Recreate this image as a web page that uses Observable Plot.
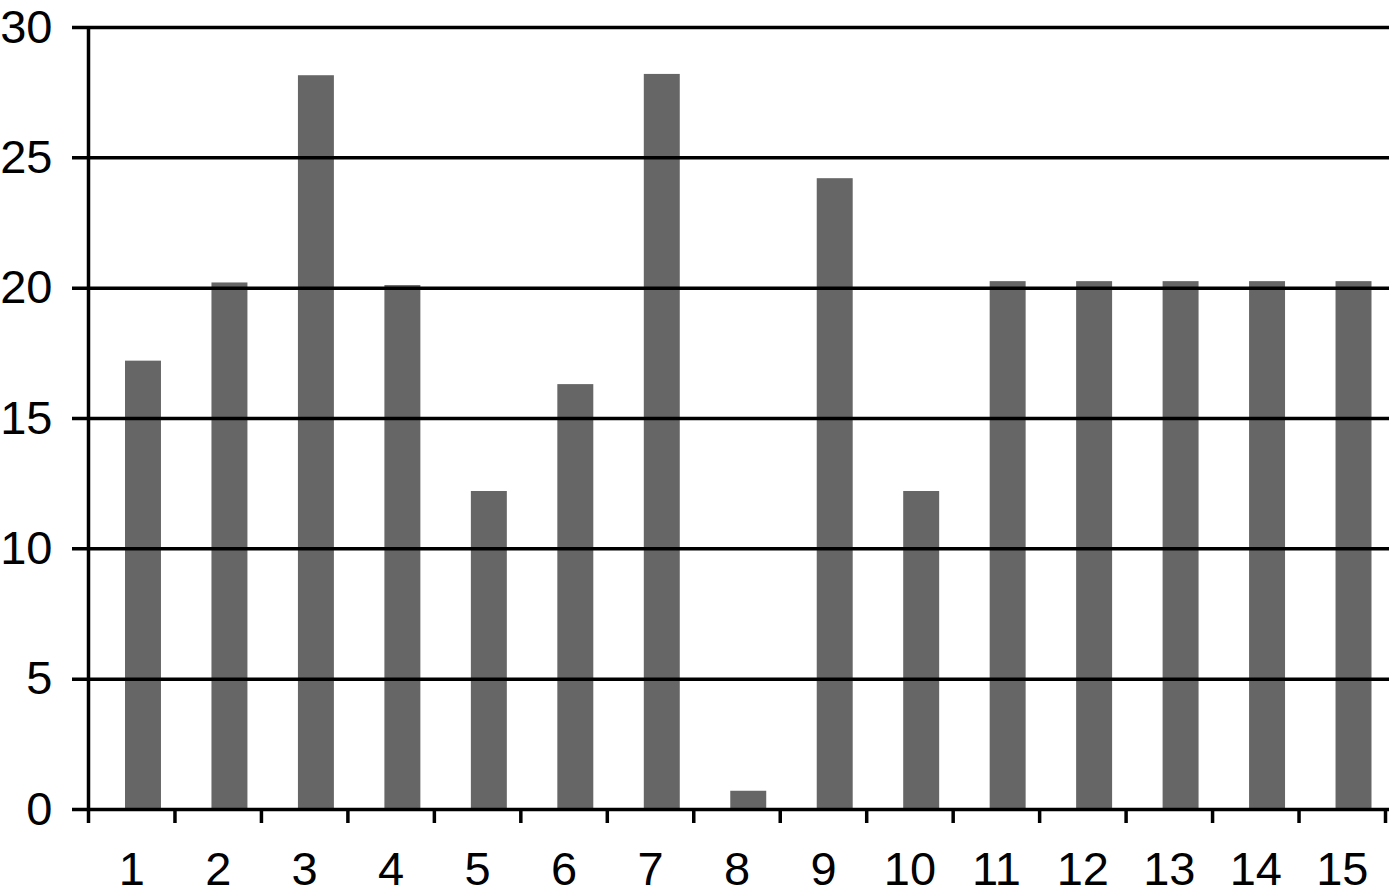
<!DOCTYPE html>
<html>
<head>
<meta charset="utf-8">
<script src="https://cdn.jsdelivr.net/npm/d3@7"></script>
<script src="https://cdn.jsdelivr.net/npm/@observablehq/plot@0.6"></script>
<style>
  html, body { margin: 0; padding: 0; background: #ffffff; }
  #chart svg { display: block; }
  #chart g[aria-label="x-axis tick"] path,
  #chart g[aria-label="x-axis tick"] { stroke-width: 3.5px; stroke: #000; }
</style>
</head>
<body>
<div id="chart"></div>
<script>
const categories = [1, 2, 3, 4, 5, 6, 7, 8, 9, 10, 11, 12, 13, 14, 15];
const values = [17.2, 20.2, 28.15, 20.1, 12.2, 16.3, 28.2, 0.7, 24.2, 12.2, 20.25, 20.25, 20.25, 20.25, 20.25];
const yTicks = [0, 5, 10, 15, 20, 25, 30];
const xBoundaries = [0.5, 1.5, 2.5, 3.5, 4.5, 5.5, 6.5, 7.5, 8.5, 9.5, 10.5, 11.5, 12.5, 13.5, 14.5, 15.5];

const data = categories.map((c, i) => ({cat: c, value: values[i]}));

const chart = Plot.plot({
  width: 1389,
  height: 896,
  marginLeft: 88,
  marginRight: 4,
  marginTop: 27,
  marginBottom: 87,
  style: {fontFamily: "'Liberation Sans', Arial, Helvetica, sans-serif", fontSize: "47px", color: "#000", background: "#fff"},
  x: {domain: [0.5, 15.5]},
  y: {domain: [0, 30]},
  marks: [
    Plot.rectY(data, {
      x1: d => d.cat - 0.5,
      x2: d => d.cat + 0.5,
      y: "value",
      fill: "#666666",
      insetLeft: 37,
      insetRight: 13.5
    }),
    Plot.ruleY(yTicks, {stroke: "#000", strokeWidth: 3.5, insetLeft: -16, insetRight: -4}),
    Plot.ruleX([0.5], {stroke: "#000", strokeWidth: 3.5}),
    Plot.axisX({ticks: xBoundaries, tickSize: 14, tickFormat: () => "", strokeWidth: 3.5, stroke: "#000", label: null}),
    Plot.axisX({ticks: categories, tickSize: 0, tickPadding: 42, fontSize: 47, label: null, tickFormat: d => String(d)}),
    Plot.axisY({ticks: yTicks, tickSize: 0, tickPadding: 36, fontSize: 47, label: null})
  ]
});

document.getElementById("chart").appendChild(chart);
</script>
</body>
</html>
